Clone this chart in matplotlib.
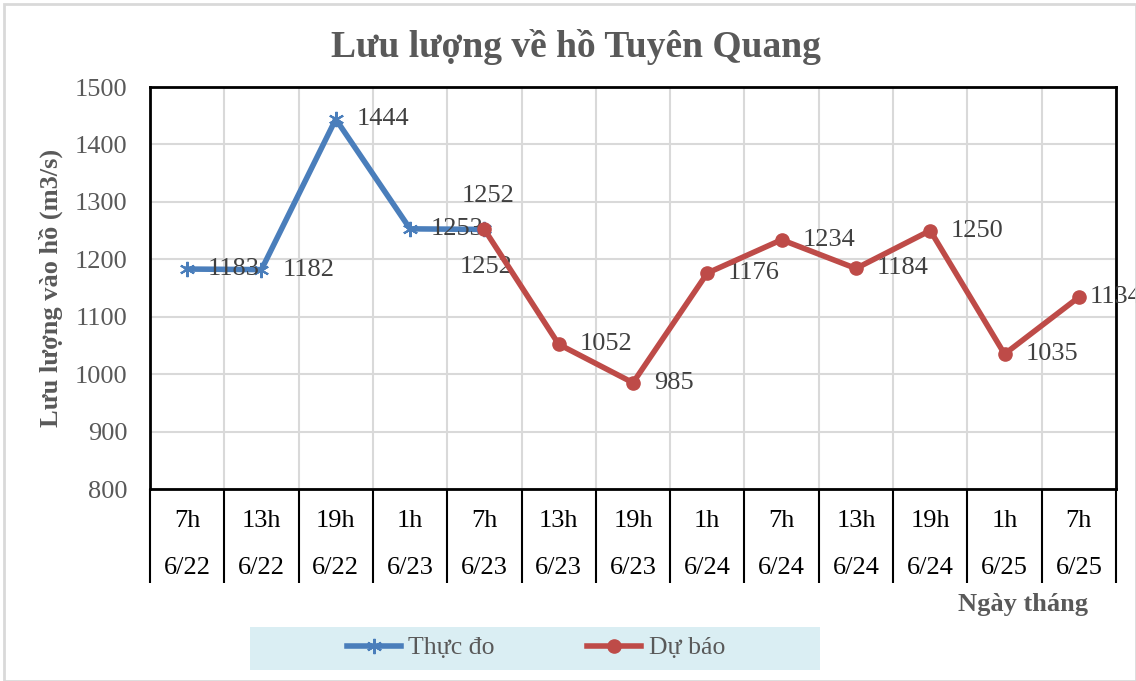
import numpy as np
import matplotlib.pyplot as plt
from matplotlib.patches import Rectangle
from matplotlib.lines import Line2D

plt.rcParams['font.family'] = ['Liberation Serif', 'DejaVu Serif']

gio = ["7h", "13h", "19h", "1h", "7h", "13h", "19h", "1h", "7h", "13h", "19h", "1h", "7h"]
ngay = ["6/22", "6/22", "6/22", "6/23", "6/23", "6/23", "6/23", "6/24", "6/24", "6/24", "6/24", "6/25", "6/25"]
thuc_do = [1183, 1182, 1444, 1253, 1252]
du_bao = [1252, 1052, 985, 1176, 1234, 1184, 1250, 1035, 1134]

n = len(gio)
x = np.arange(n)
x_thuc = x[:len(thuc_do)]
x_du = x[n - len(du_bao):]

blue = "#4A7EBB"
red = "#BE4B48"
gray = "#595959"

fig = plt.figure(figsize=(11.36, 6.81), dpi=100)
fig.patches.append(Rectangle((4 / 1136, 0), 1 - 4 / 1136, 1 - 4 / 681, transform=fig.transFigure,
                             fill=False, edgecolor="#d9d9d9", linewidth=2))
ax = fig.add_axes([150 / 1136, 1 - 489 / 681, 966 / 1136, 402 / 681])

ax.plot(x_thuc, thuc_do, color=blue, linewidth=4, marker=(6, 2, 0), markersize=11,
        markeredgecolor=blue, markeredgewidth=1.5, zorder=3)
ax.plot(x_du, du_bao, color=red, linewidth=4, marker="o", markersize=9.5,
        markerfacecolor=red, markeredgecolor=red, zorder=4)

# nhan du lieu
fs_lbl = 19
for i, v in zip(x_thuc[:-1], thuc_do[:-1]):
    ax.annotate(str(v), (i, v), xytext=(15, 0), textcoords="offset points",
                ha="left", va="center", fontsize=fs_lbl, color="#404040")
ax.annotate(str(thuc_do[-1]), (x_thuc[-1], thuc_do[-1]), xytext=(3, 24), textcoords="offset points",
            ha="center", va="center", fontsize=fs_lbl, color="#404040")
ax.annotate(str(du_bao[0]), (x_du[0], du_bao[0]), xytext=(1, -27), textcoords="offset points",
            ha="center", va="center", fontsize=fs_lbl, color="#404040")
for i, v in zip(x_du[1:], du_bao[1:]):
    dx = 15 if i < n - 1 else 8
    ax.annotate(str(v), (i, v), xytext=(dx, 0), textcoords="offset points",
                ha="left", va="center", fontsize=fs_lbl, color="#404040", annotation_clip=False)

ax.set_xlim(-0.5, n - 0.5)
ax.set_ylim(800, 1500)
ax.set_yticks(np.arange(800, 1501, 100))
ax.set_xticks(x)
ax.set_xticklabels([f"{g}\n{d}" for g, d in zip(gio, ngay)])
plt.setp(ax.get_xticklabels(), linespacing=2.5)
ax.set_xticks(np.arange(-0.5, n, 1), minor=True)

ax.tick_params(axis="y", length=0, pad=16, labelsize=19, labelcolor=gray)
ax.tick_params(axis="x", which="major", length=0, pad=15, labelsize=19, labelcolor="black")
ax.tick_params(axis="x", which="minor", length=68, width=1.5, color="black")

ax.grid(axis="y", which="major", color="#d9d9d9", linewidth=1.5)
ax.grid(axis="x", which="minor", color="#d9d9d9", linewidth=1.5)
ax.set_axisbelow(True)
for s in ax.spines.values():
    s.set_color("black")
    s.set_linewidth(2)

ax.set_ylabel("Lưu lượng vào hồ (m3/s)", fontsize=19, fontweight="bold", color=gray, labelpad=9)
fig.text(576 / 1136, 1 - 47 / 681, "Lưu lượng về hồ Tuyên Quang", ha="center", va="center",
         fontsize=27, fontweight="bold", color=gray)
fig.text(1023 / 1136, 1 - 605 / 681, "Ngày tháng", ha="center", va="center",
         fontsize=19, fontweight="bold", color=gray)

# chu thich
fig.patches.append(Rectangle((250 / 1136, 1 - 670 / 681), 570 / 1136, 43 / 681,
                             transform=fig.transFigure, facecolor="#DAEEF3", edgecolor="none"))
handles = [Line2D([], [], color=blue, linewidth=4, marker=(6, 2, 0), markersize=11, markeredgewidth=1.5),
           Line2D([], [], color=red, linewidth=4, marker="o", markersize=9.5)]
leg = fig.legend(handles, ["Thực đo", "Dự báo"], loc="center", bbox_to_anchor=(536 / 1136, 1 - 648 / 681),
                 ncol=2, frameon=False, fontsize=18.5, handlelength=2.1, handletextpad=0.3, columnspacing=3.6)
for t in leg.get_texts():
    t.set_color(gray)

fig.savefig("out.png", dpi=100)
